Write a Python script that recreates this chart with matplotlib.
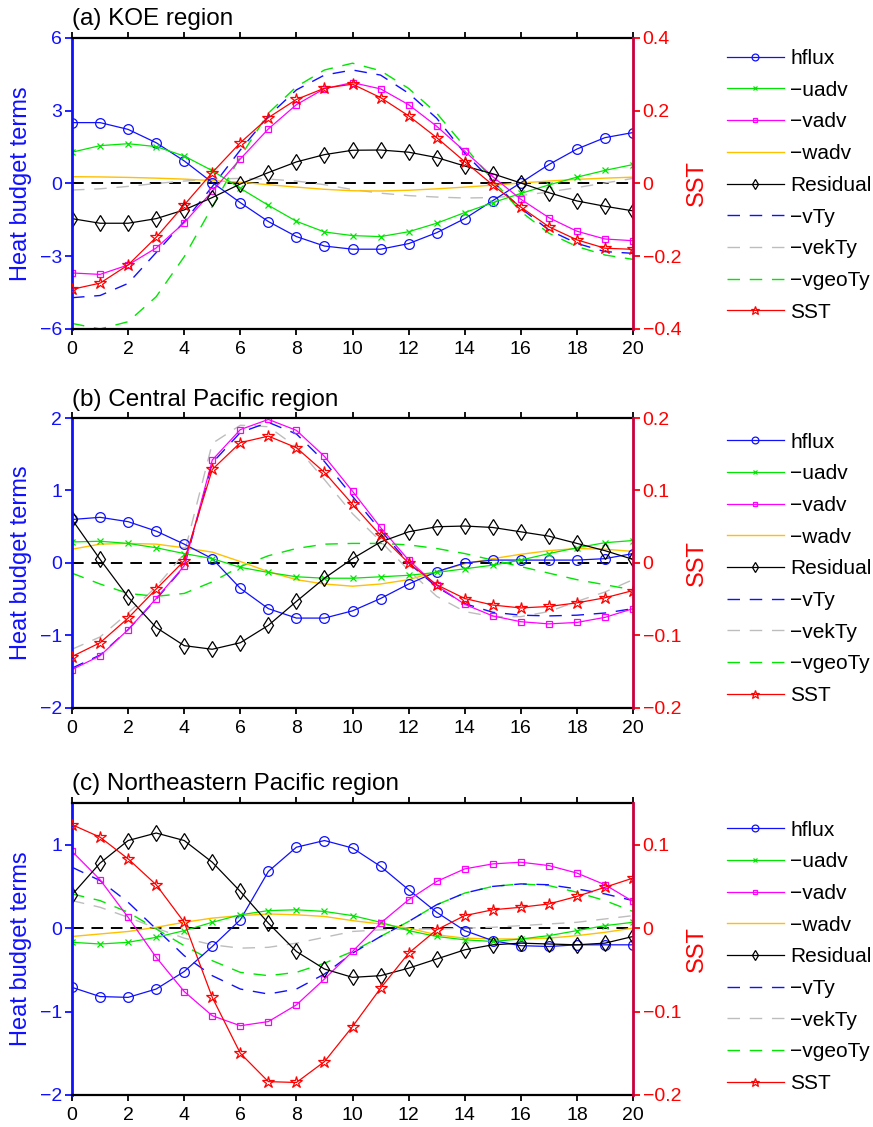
import matplotlib
matplotlib.use('Agg')
import matplotlib.pyplot as plt

plt.rcParams['font.family'] = ['Liberation Sans', 'DejaVu Sans']

days = list(range(21))

# (a) KOE region
koe_hflux = [2.51, 2.51, 2.23, 1.68, 0.93, 0.04, -0.79, -1.57, -2.19, -2.58, -2.71,
             -2.71, -2.48, -2.03, -1.45, -0.71, 0.03, 0.78, 1.42, 1.89, 2.10]
koe_uadv = [1.29, 1.56, 1.64, 1.52, 1.13, 0.53, -0.20, -0.90, -1.56, -2.00, -2.15,
            -2.19, -1.99, -1.64, -1.20, -0.79, -0.41, -0.06, 0.26, 0.54, 0.78]
koe_vadv = [-3.69, -3.75, -3.36, -2.66, -1.62, -0.32, 1.01, 2.25, 3.25, 3.91, 4.16,
            3.90, 3.25, 2.36, 1.33, 0.28, -0.65, -1.41, -1.97, -2.29, -2.36]
koe_wadv = [0.28, 0.27, 0.25, 0.22, 0.18, 0.12, 0.05, -0.05, -0.15, -0.24, -0.30,
            -0.31, -0.28, -0.22, -0.15, -0.07, 0.02, 0.10, 0.17, 0.22, 0.26]
koe_resid = [-1.45, -1.64, -1.64, -1.45, -1.09, -0.58, -0.02, 0.45, 0.89, 1.19, 1.37,
             1.38, 1.29, 1.07, 0.72, 0.40, 0.02, -0.38, -0.72, -0.94, -1.13]
koe_vty = [-4.71, -4.62, -4.12, -2.85, -1.57, -0.13, 1.38, 2.78, 3.86, 4.47, 4.68,
           4.47, 3.72, 2.69, 1.25, 0.07, -1.02, -1.92, -2.47, -2.81, -2.88]
koe_vekty = [-0.27, -0.22, -0.12, 0.00, 0.10, 0.18, 0.21, 0.18, 0.10, -0.05, -0.25,
             -0.40, -0.50, -0.56, -0.60, -0.58, -0.50, -0.35, -0.17, 0.02, 0.21]
koe_vgeoty = [-5.77, -6.00, -5.70, -4.67, -3.02, -0.96, 1.10, 2.90, 3.99, 4.68, 4.96,
              4.65, 3.92, 2.90, 1.52, 0.14, -1.16, -2.05, -2.60, -2.95, -3.13]
koe_sst = [-0.291, -0.274, -0.224, -0.148, -0.059, 0.030, 0.112, 0.181, 0.231, 0.262, 0.273,
           0.236, 0.186, 0.126, 0.060, -0.004, -0.065, -0.119, -0.155, -0.178, -0.181]

# (b) Central Pacific region
cp_hflux = [0.60, 0.63, 0.57, 0.44, 0.26, 0.06, -0.35, -0.63, -0.76, -0.76, -0.66,
            -0.49, -0.29, -0.12, 0.00, 0.04, 0.04, 0.04, 0.04, 0.06, 0.13]
cp_uadv = [0.29, 0.30, 0.27, 0.21, 0.13, 0.06, -0.06, -0.13, -0.19, -0.21, -0.21,
           -0.19, -0.17, -0.13, -0.08, -0.03, 0.04, 0.13, 0.21, 0.28, 0.31]
cp_vadv = [-1.47, -1.28, -0.92, -0.49, -0.04, 1.42, 1.84, 1.98, 1.83, 1.47, 0.99,
           0.49, 0.04, -0.31, -0.57, -0.73, -0.81, -0.84, -0.82, -0.75, -0.63]
cp_wadv = [0.19, 0.26, 0.27, 0.26, 0.21, 0.15, 0.02, -0.12, -0.23, -0.29, -0.32,
           -0.29, -0.23, -0.12, -0.01, 0.06, 0.12, 0.17, 0.20, 0.19, 0.16]
cp_resid = [0.60, 0.05, -0.47, -0.89, -1.14, -1.19, -1.10, -0.86, -0.53, -0.21, 0.06,
            0.29, 0.43, 0.50, 0.51, 0.49, 0.43, 0.37, 0.27, 0.17, 0.05]
cp_vty = [-1.45, -1.27, -0.92, -0.50, -0.05, 1.38, 1.80, 1.94, 1.78, 1.40, 0.92,
          0.45, 0.00, -0.33, -0.56, -0.68, -0.72, -0.73, -0.72, -0.69, -0.63]
cp_vekty = [-1.19, -1.02, -0.69, -0.33, 0.13, 1.65, 1.90, 1.88, 1.60, 1.15, 0.68,
            0.30, -0.10, -0.46, -0.67, -0.74, -0.74, -0.67, -0.53, -0.40, -0.23]
cp_vgeoty = [-0.14, -0.29, -0.42, -0.46, -0.42, -0.26, -0.05, 0.10, 0.20, 0.26, 0.27,
             0.27, 0.25, 0.20, 0.13, 0.04, -0.05, -0.14, -0.23, -0.30, -0.37]
cp_sst = [-0.129, -0.110, -0.076, -0.036, 0.003, 0.129, 0.166, 0.175, 0.159, 0.125, 0.081,
          0.038, 0.000, -0.030, -0.049, -0.058, -0.062, -0.060, -0.055, -0.048, -0.038]

# (c) Northeastern Pacific region
nep_hflux = [-0.71, -0.82, -0.83, -0.73, -0.52, -0.22, 0.10, 0.68, 0.97, 1.05, 0.96,
             0.74, 0.46, 0.19, -0.03, -0.15, -0.21, -0.22, -0.20, -0.20, -0.20]
nep_uadv = [-0.17, -0.19, -0.17, -0.11, -0.03, 0.07, 0.16, 0.21, 0.22, 0.20, 0.15,
            0.07, -0.03, -0.10, -0.14, -0.16, -0.13, -0.09, -0.03, 0.03, 0.07]
nep_vadv = [0.92, 0.58, 0.13, -0.35, -0.76, -1.05, -1.17, -1.12, -0.92, -0.61, -0.28,
            0.06, 0.34, 0.56, 0.71, 0.77, 0.79, 0.75, 0.66, 0.52, 0.32]
nep_wadv = [-0.10, -0.07, -0.04, 0.01, 0.07, 0.12, 0.15, 0.17, 0.16, 0.14, 0.09,
            0.05, 0.00, -0.08, -0.12, -0.13, -0.13, -0.12, -0.09, -0.05, 0.00]
nep_resid = [0.40, 0.78, 1.05, 1.14, 1.05, 0.79, 0.44, 0.06, -0.28, -0.49, -0.59,
             -0.57, -0.48, -0.37, -0.26, -0.20, -0.18, -0.19, -0.20, -0.18, -0.10]
nep_vty = [0.73, 0.57, 0.31, -0.01, -0.33, -0.57, -0.73, -0.79, -0.73, -0.55, -0.30,
           -0.10, 0.08, 0.28, 0.42, 0.50, 0.53, 0.52, 0.47, 0.41, 0.33]
nep_vekty = [0.33, 0.25, 0.13, 0.00, -0.12, -0.20, -0.24, -0.23, -0.18, -0.11, -0.04,
             -0.02, -0.01, -0.01, 0.00, 0.01, 0.03, 0.05, 0.07, 0.11, 0.15]
nep_vgeoty = [0.41, 0.33, 0.19, -0.01, -0.21, -0.39, -0.53, -0.57, -0.53, -0.42, -0.28,
              -0.10, 0.08, 0.28, 0.42, 0.50, 0.53, 0.51, 0.43, 0.33, 0.20]
nep_sst = [0.124, 0.109, 0.083, 0.052, 0.007, -0.083, -0.150, -0.184, -0.185, -0.160, -0.118,
           -0.072, -0.030, -0.002, 0.015, 0.022, 0.025, 0.029, 0.038, 0.049, 0.060]

labels = ['hflux', '\u2212uadv', '\u2212vadv', '\u2212wadv', 'Residual',
          '\u2212vTy', '\u2212vekTy', '\u2212vgeoTy', 'SST']

BLUE = '#1010ff'
GREEN = '#00e600'
MAGENTA = '#ff00ff'
ORANGE = '#ffc000'
GRAY = '#bdbdbd'
RED = '#ff0000'
DASH = (0, (9, 7))


def draw_panel(rect, title, series, sst, ylim, yticks, yticklabels,
               slim, sticks, sticklabels, leg_top):
    ax = fig.add_axes(rect)
    ax2 = ax.twinx()

    hflux, uadv, vadv, wadv, resid, vty, vekty, vgeoty = series
    ax.axhline(0, color='black', lw=1.4, ls=(0, (6, 4)), zorder=1)
    ax.plot(days, vekty, color=GRAY, lw=1.0, ls=DASH, label=labels[6])
    ax.plot(days, vgeoty, color=GREEN, lw=1.0, ls=DASH, label=labels[7])
    ax.plot(days, vty, color=BLUE, lw=1.0, ls=DASH, label=labels[5])
    ax.plot(days, wadv, color=ORANGE, lw=1.0, label=labels[3])
    ax.plot(days, hflux, color=BLUE, lw=0.9, marker='o', ms=7, mfc='none', mew=0.9,
            label=labels[0])
    ax.plot(days, uadv, color=GREEN, lw=0.9, marker='x', ms=5, mew=0.9, label=labels[1])
    ax.plot(days, vadv, color=MAGENTA, lw=0.9, marker='s', ms=5, mfc='none', mew=0.9,
            label=labels[2])
    ax.plot(days, resid, color='black', lw=0.9, marker='d', ms=8, mfc='none', mew=0.9,
            label=labels[4])
    ax2.plot(days, sst, color=RED, lw=0.9, marker='*', ms=9, mfc='none', mew=0.9,
             label=labels[8])

    ax.set_xlim(0, 20)
    ax.set_xticks(range(0, 21, 2))
    ax.set_ylim(*ylim)
    ax.set_yticks(yticks)
    ax.set_yticklabels(yticklabels)
    ax2.set_ylim(*slim)
    ax2.set_yticks(sticks)
    ax2.set_yticklabels(sticklabels)

    ax.tick_params(axis='x', top=True, direction='out', length=4, width=1.3,
                   labelsize=14, pad=4.5)
    ax.tick_params(axis='y', direction='out', length=5, width=1.3, colors=BLUE,
                   labelsize=14, pad=2)
    ax2.tick_params(axis='y', direction='out', length=5, width=1.3, colors=RED,
                    labelsize=14, pad=2)

    for side in ['top', 'bottom']:
        ax.spines[side].set_linewidth(1.6)
        ax2.spines[side].set_visible(False)
    ax.spines['left'].set_color(BLUE)
    ax.spines['left'].set_linewidth(2)
    ax.spines['right'].set_visible(False)
    ax2.spines['left'].set_visible(False)
    ax2.spines['right'].set_color('#c8003c')
    ax2.spines['right'].set_linewidth(2)

    ax.set_title(title, loc='left', fontsize=17.5, pad=9)
    ax.set_ylabel('Heat budget terms', color=BLUE, fontsize=17)
    ax.yaxis.set_label_coords(-0.072, 0.5)
    ax2.set_ylabel('SST', color=RED, fontsize=17)
    ax2.yaxis.set_label_coords(1.095, 0.5)

    h1, l1 = ax.get_legend_handles_labels()
    h2, l2 = ax2.get_legend_handles_labels()
    lookup = dict(zip(l1 + l2, h1 + h2))
    ax.legend([lookup[k] for k in labels], labels, loc='upper left',
              bbox_to_anchor=(1.167, leg_top), frameon=False, fontsize=15,
              handlelength=2.75, handletextpad=0.3, labelspacing=0.61,
              borderpad=0, borderaxespad=0, markerscale=0.7)


fig = plt.figure(figsize=(8.73, 11.27), dpi=100)

draw_panel([0.0825, 0.7081, 0.6426, 0.2582], '(a) KOE region',
           [koe_hflux, koe_uadv, koe_vadv, koe_wadv, koe_resid, koe_vty, koe_vekty, koe_vgeoty],
           koe_sst, (-6, 6), [-6, -3, 0, 3, 6], ['\u22126', '\u22123', '0', '3', '6'],
           (-0.4, 0.4), [-0.4, -0.2, 0, 0.2, 0.4],
           ['\u22120.4', '\u22120.2', '0', '0.2', '0.4'], 0.962)

draw_panel([0.0825, 0.3718, 0.6426, 0.2573], '(b) Central Pacific region',
           [cp_hflux, cp_uadv, cp_vadv, cp_wadv, cp_resid, cp_vty, cp_vekty, cp_vgeoty],
           cp_sst, (-2, 2), [-2, -1, 0, 1, 2], ['\u22122', '\u22121', '0', '1', '2'],
           (-0.2, 0.2), [-0.2, -0.1, 0, 0.1, 0.2],
           ['\u22120.2', '\u22120.1', '0', '0.1', '0.2'], 0.950)

draw_panel([0.0825, 0.0284, 0.6426, 0.2591], '(c) Northeastern Pacific region',
           [nep_hflux, nep_uadv, nep_vadv, nep_wadv, nep_resid, nep_vty, nep_vekty, nep_vgeoty],
           nep_sst, (-2, 1.5), [-2, -1, 0, 1], ['\u22122', '\u22121', '0', '1'],
           (-0.2, 0.15), [-0.2, -0.1, 0, 0.1],
           ['\u22120.2', '\u22120.1', '0', '0.1'], 0.940)

fig.savefig('out.png', dpi=100)
